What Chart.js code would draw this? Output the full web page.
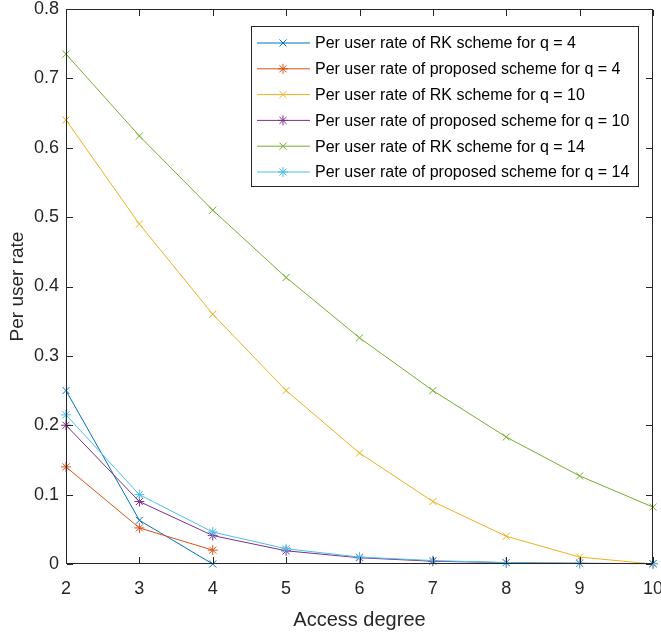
<!DOCTYPE html>
<html lang="en">
  <head>
    <meta charset="UTF-8" />
    <script src="https://cdn.jsdelivr.net/npm/chart.js@4.4.0/dist/chart.umd.min.js"></script>
    <title>Per user rate</title>
    <style>
      html, body { margin: 0; padding: 0; background: #fff; overflow: hidden; }
      #wrap { width: 661px; height: 639px; }
    </style>
  </head>
  <body>
    <div id="wrap"><canvas id="myChart"></canvas></div>
    <script>
      // values
      const degrees = [2, 3, 4, 5, 6, 7, 8, 9, 10];
      const rkQ4 = [0.25, 0.063, 0];
      const propQ4 = [0.14, 0.052, 0.02];
      const rkQ10 = [0.64, 0.49, 0.36, 0.25, 0.16, 0.09, 0.04, 0.01, 0];
      const propQ10 = [0.2, 0.09, 0.041, 0.019, 0.009, 0.004, 0.002, 0.001, 0.0005];
      const rkQ14 = [0.735, 0.617, 0.51, 0.413, 0.326, 0.25, 0.183, 0.127, 0.082];
      const propQ14 = [0.215, 0.1, 0.046, 0.022, 0.01, 0.005, 0.002, 0.001, 0.0005];
      const yTicks = [0, 0.1, 0.2, 0.3, 0.4, 0.5, 0.6, 0.7, 0.8];

      const ink = "#262626";
      const font = "'Liberation Sans', Arial, sans-serif";

      const toPoints = (ys) => ys.map((y, i) => ({ x: degrees[i], y: y }));

      const series = [
        { label: "Per user rate of RK scheme for q = 4", data: rkQ4, color: "#0072BD", marker: "crossRot" },
        { label: "Per user rate of proposed scheme for q = 4", data: propQ4, color: "#D95319", marker: "star" },
        { label: "Per user rate of RK scheme for q = 10", data: rkQ10, color: "#EDB120", marker: "crossRot" },
        { label: "Per user rate of proposed scheme for q = 10", data: propQ10, color: "#7E2F8E", marker: "star" },
        { label: "Per user rate of RK scheme for q = 14", data: rkQ14, color: "#77AC30", marker: "crossRot" },
        { label: "Per user rate of proposed scheme for q = 14", data: propQ14, color: "#4DBEEE", marker: "star" },
      ];

      // x / asterisk marker for the legend
      function marker(ctx, type, x, y, r) {
        const d = r * Math.SQRT1_2;
        ctx.beginPath();
        ctx.moveTo(x - d, y - d); ctx.lineTo(x + d, y + d);
        ctx.moveTo(x - d, y + d); ctx.lineTo(x + d, y - d);
        if (type === "star") {
          ctx.moveTo(x, y - r); ctx.lineTo(x, y + r);
          ctx.moveTo(x - r, y); ctx.lineTo(x + r, y);
        }
        ctx.stroke();
      }

      // box + inward ticks on all four sides, like a matlab axes
      function drawBox(chart) {
        const { ctx, chartArea: a, scales } = chart;
        const l = Math.round(a.left), r = Math.round(a.right) - 1;
        const t = Math.round(a.top), b = Math.round(a.bottom) - 1;
        ctx.save();
        ctx.fillStyle = ink;
        ctx.fillRect(l, t, r - l + 1, 1);
        ctx.fillRect(l, b, r - l + 1, 1);
        ctx.fillRect(l, t, 1, b - t + 1);
        ctx.fillRect(r, t, 1, b - t + 1);
        degrees.forEach((d) => {
          const x = Math.round(scales.x.getPixelForValue(d));
          ctx.fillRect(x, b - 6, 1, 6);
          ctx.fillRect(x, t + 1, 1, 6);
        });
        yTicks.forEach((v) => {
          const y = Math.round(scales.y.getPixelForValue(v));
          ctx.fillRect(l + 1, y, 6, 1);
          ctx.fillRect(r - 6, y, 6, 1);
        });
        ctx.restore();
      }

      function drawLegend(chart) {
        const ctx = chart.ctx;
        const x0 = 251, y0 = 26, w = 387, h = 160, row = 25.8;
        ctx.save();
        ctx.fillStyle = "#fff";
        ctx.fillRect(x0, y0, w, h);
        ctx.strokeStyle = ink;
        ctx.lineWidth = 1;
        ctx.strokeRect(x0 + 0.5, y0 + 0.5, w, h);
        ctx.font = "16px " + font;
        ctx.textBaseline = "middle";
        series.forEach((s, i) => {
          const y = y0 + 17 + i * row;
          ctx.strokeStyle = s.color;
          ctx.lineWidth = 1;
          ctx.beginPath();
          ctx.moveTo(257, y); ctx.lineTo(310, y);
          ctx.stroke();
          marker(ctx, s.marker, 283, y, 5);
          ctx.fillStyle = "#000";
          ctx.fillText(s.label, 315, y + 1);
        });
        ctx.restore();
      }

      const framePlugin = {
        id: "frame",
        afterDraw(chart) {
          drawBox(chart);
          drawLegend(chart);
        },
      };

      const ctx = document.getElementById("myChart").getContext("2d");
      const chart = new Chart(ctx, {
        type: "line",
        data: {
          datasets: series.map((s, i) => ({
            label: s.label,
            data: toPoints(s.data),
            borderColor: s.color,
            backgroundColor: s.color,
            borderWidth: 1,
            pointStyle: s.marker,
            pointRadius: 5,
            pointBorderWidth: 1,
            pointBorderColor: s.color,
            pointBackgroundColor: s.color,
            fill: false,
            tension: 0,
            clip: false,
            order: series.length - i,
          })),
        },
        options: {
          responsive: true,
          maintainAspectRatio: false,
          animation: false,
          layout: { padding: { top: 9, right: 8, left: 0, bottom: 0 } },
          plugins: { legend: { display: false }, tooltip: { enabled: false } },
          scales: {
            x: {
              type: "linear",
              min: 2,
              max: 10,
              afterFit: (s) => { s.height = 75; s.paddingLeft = 0; s.paddingRight = 0; },
              ticks: { stepSize: 1, color: ink, font: { family: font, size: 18 }, padding: 14 },
              grid: { display: false, drawTicks: false },
              border: { display: false },
              title: { display: true, text: "Access degree", color: ink, font: { family: font, size: 20 }, padding: { bottom: 7 } },
            },
            y: {
              min: 0,
              max: 0.8,
              afterFit: (s) => { s.width = 66; s.paddingTop = 0; s.paddingBottom = 0; },
              afterBuildTicks: (s) => { s.ticks = yTicks.map((v) => ({ value: v })); },
              ticks: {
                color: ink,
                font: { family: font, size: 18 },
                padding: 7,
                callback: (v) => (v === 0 ? "0" : v.toFixed(1)),
              },
              grid: { display: false, drawTicks: false },
              border: { display: false },
              title: { display: true, text: "Per user rate", color: ink, font: { family: font, size: 19 }, padding: { top: 6 } },
            },
          },
        },
        plugins: [framePlugin],
      });
    </script>
  </body>
</html>
